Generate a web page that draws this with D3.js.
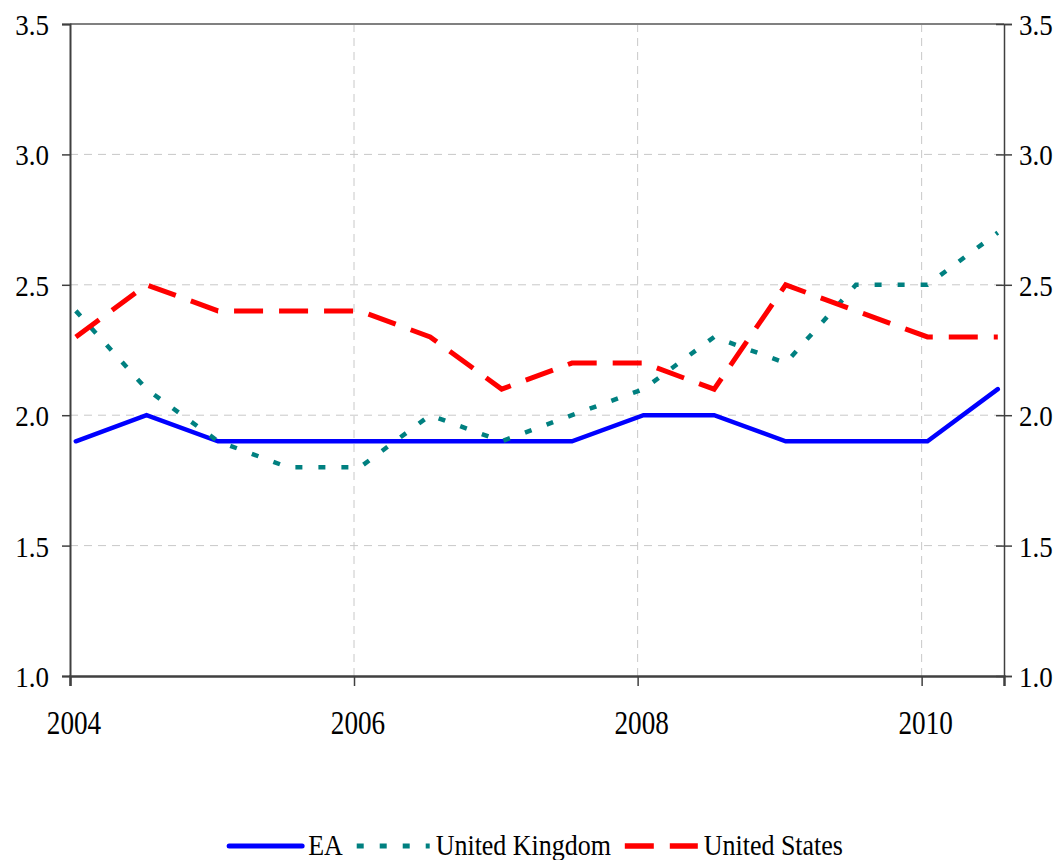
<!DOCTYPE html>
<html>
<head>
<meta charset="utf-8">
<script src="https://cdn.jsdelivr.net/npm/d3@7"></script>
<style>
  body { margin: 0; background: #fff; }
</style>
</head>
<body>
<div id="chart"></div>
<script>
// half-year observations, plotted mid-month
const periods = ["2004-01", "2004-07", "2005-01", "2005-07", "2006-01", "2006-07", "2007-01",
                 "2007-07", "2008-01", "2008-07", "2009-01", "2009-07", "2010-01", "2010-07"];
const eaValues = [1.9, 2.0, 1.9, 1.9, 1.9, 1.9, 1.9, 1.9, 2.0, 2.0, 1.9, 1.9, 1.9, 2.1];
const ukValues = [2.4, 2.1, 1.9, 1.8, 1.8, 2.0, 1.9, 2.0, 2.1, 2.3, 2.2, 2.5, 2.5, 2.7];
const usValues = [2.3, 2.5, 2.4, 2.4, 2.4, 2.3, 2.1, 2.2, 2.2, 2.1, 2.5, 2.4, 2.3, 2.3];
const seriesNames = ["EA", "United Kingdom", "United States"];
const yTicks = [1.0, 1.5, 2.0, 2.5, 3.0, 3.5];
const xTickYears = [2004, 2006, 2008, 2010];

const width = 1062, height = 860;
const plot = { left: 70, right: 1004, top: 24, bottom: 676 };
const serif = "'Liberation Serif', 'Times New Roman', Times, serif";

const styles = [
  { color: "#0000ff", dash: null, w: 4.5, cap: "round" },
  { color: "#008080", dash: "7,16", w: 4.5, cap: "butt" },
  { color: "#ff0000", dash: "29,16", w: 5, cap: "butt" }
];

const svg = d3.select("#chart").append("svg")
  .attr("width", width).attr("height", height)
  .attr("font-family", serif);

const x = d3.scaleTime()
  .domain([new Date(2004, 0, 1), new Date(2010, 7, 1)])
  .range([plot.left, plot.right]);
const y = d3.scaleLinear().domain([1, 3.5]).range([plot.bottom, plot.top]);

const parse = p => { const [yy, mm] = p.split("-").map(Number); return new Date(yy, mm - 1, 16); };
const dates = periods.map(parse);
const allSeries = [eaValues, ukValues, usValues].map((vals, i) => ({
  name: seriesNames[i],
  style: styles[i],
  points: vals.map((v, j) => ({ date: dates[j], value: v }))
}));

// grid
const grid = svg.append("g").attr("stroke", "#c8c8c8").attr("stroke-width", 1)
  .attr("stroke-dasharray", "8,6");
grid.selectAll(".hg").data(yTicks.filter(t => t > 1 && t < 3.5)).join("line")
  .attr("x1", plot.left).attr("x2", plot.right)
  .attr("y1", d => y(d)).attr("y2", d => y(d));
grid.selectAll(".vg").data(xTickYears.slice(1)).join("line")
  .attr("x1", d => x(new Date(d, 0, 1))).attr("x2", d => x(new Date(d, 0, 1)))
  .attr("y1", plot.top).attr("y2", plot.bottom);

// frame
svg.append("line").attr("x1", plot.left).attr("x2", plot.right)
  .attr("y1", plot.top).attr("y2", plot.top).attr("stroke", "#808080").attr("stroke-width", 2);

const leftAxis = svg.append("g").attr("transform", `translate(${plot.left},0)`)
  .call(d3.axisLeft(y).tickValues(yTicks).tickSize(8).tickFormat(""));
leftAxis.select(".domain").attr("stroke", "#404040").attr("stroke-width", 2);
leftAxis.selectAll(".tick line").attr("stroke", "#404040").attr("stroke-width", 1.5);

const rightAxis = svg.append("g").attr("transform", `translate(${plot.right},0)`)
  .call(d3.axisRight(y).tickValues(yTicks).tickSize(8).tickFormat(""));
rightAxis.select(".domain").attr("stroke", "#404040").attr("stroke-width", 1.5);
rightAxis.selectAll(".tick line").attr("x1", -8).attr("stroke", "#404040").attr("stroke-width", 1.5);

const bottomAxis = svg.append("g").attr("transform", `translate(0,${plot.bottom})`)
  .call(d3.axisBottom(x).tickValues(xTickYears.map(d => new Date(d, 0, 1))).tickSize(10).tickFormat(""));
bottomAxis.select(".domain").attr("stroke", "#404040").attr("stroke-width", 2.5);
bottomAxis.selectAll(".tick line").attr("stroke", "#404040").attr("stroke-width", 1.5);

// tick labels (condensed serif)
const labels = svg.append("g").attr("fill", "#000");
labels.append("g").selectAll("text").data(yTicks).join("text")
  .attr("transform", d => `translate(49,${y(d) + 11}) scale(0.9,1)`)
  .attr("text-anchor", "end").attr("font-size", 30)
  .text(d => d.toFixed(1));
labels.append("g").selectAll("text").data(yTicks).join("text")
  .attr("transform", d => `translate(1019,${y(d) + 11}) scale(0.9,1)`)
  .attr("text-anchor", "start").attr("font-size", 30)
  .text(d => d.toFixed(1));
labels.append("g").selectAll("text").data(xTickYears).join("text")
  .attr("transform", d => `translate(${x(new Date(d, 0, 1)) + 4},734) scale(0.8,1)`)
  .attr("text-anchor", "middle").attr("font-size", 34)
  .text(d => d);

// lines
const line = d3.line().x(d => x(d.date)).y(d => y(d.value));
svg.append("g").selectAll("path").data(allSeries).join("path")
  .attr("d", d => line(d.points))
  .attr("fill", "none")
  .attr("stroke", d => d.style.color)
  .attr("stroke-width", d => d.style.w)
  .attr("stroke-dasharray", d => d.style.dash)
  .attr("stroke-linecap", d => d.style.cap)
  .attr("stroke-linejoin", "miter");

// legend
const legend = svg.append("g");
const symW = 73, gapAfterSym = 6, gapAfterText = 14;
const legendY = 846;
const items = legend.selectAll("g").data(allSeries).join("g");
items.append("line")
  .attr("x1", 0).attr("x2", symW).attr("y1", 0).attr("y2", 0)
  .attr("stroke", d => d.style.color)
  .attr("stroke-width", d => d.style.w + 0.5)
  .attr("stroke-dasharray", d => d.style.dash)
  .attr("stroke-linecap", d => d.style.cap);
items.append("text")
  .attr("transform", `translate(${symW + gapAfterSym},9) scale(0.88,1)`)
  .attr("font-size", 29.5)
  .text(d => d.name);
let cursor = 0;
const offsets = [];
items.each(function() {
  offsets.push(cursor);
  const tw = d3.select(this).select("text").node().getComputedTextLength() * 0.88;
  cursor += symW + gapAfterSym + tw + gapAfterText;
});
const total = cursor - gapAfterText;
const startX = 536 - total / 2;
items.attr("transform", (d, i) => `translate(${startX + offsets[i]},${legendY})`);
</script>
</body>
</html>
